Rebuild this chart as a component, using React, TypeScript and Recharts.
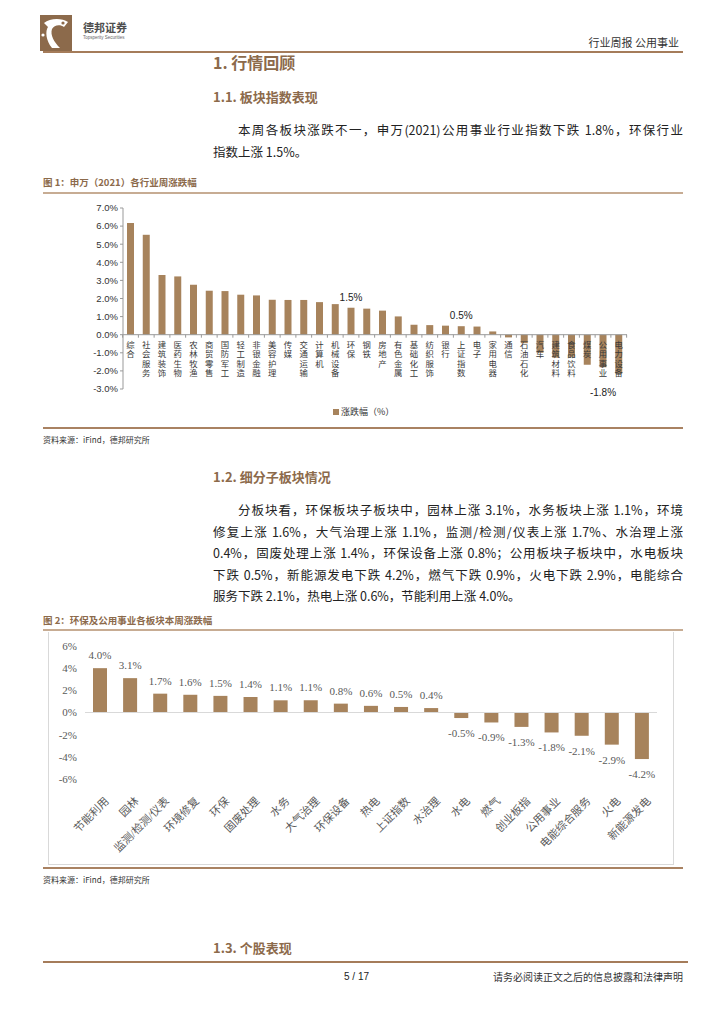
import React from "react";
import { BarChart, Bar, XAxis, YAxis, ReferenceLine, LabelList } from "recharts";

// 图1：申万（2021）各行业周涨跌幅
const industries = [
  "综合", "社会服务", "建筑装饰", "医药生物", "农林牧渔", "商贸零售", "国防军工", "轻工制造",
  "非银金融", "美容护理", "传媒", "交通运输", "计算机", "机械设备", "环保", "钢铁",
  "房地产", "有色金属", "基础化工", "纺织服饰", "银行", "上证指数", "电子", "家用电器",
  "通信", "石油石化", "汽车", "建筑材料", "食品饮料", "煤炭", "公用事业", "电力设备",
];
const industryChange = [
  6.17, 5.52, 3.3, 3.22, 2.76, 2.43, 2.41, 2.21,
  2.17, 1.93, 1.92, 1.92, 1.8, 1.69, 1.49, 1.44,
  1.33, 1.01, 0.55, 0.53, 0.5, 0.47, 0.45, 0.18,
  -0.15, -0.47, -1.0, -1.27, -1.22, -1.66, -1.8, -2.15,
];
const highlightAbove = ["环保", "上证指数"];
const highlightBelow = ["公用事业"];
const yTicks1 = [-3, -2, -1, 0, 1, 2, 3, 4, 5, 6, 7];

// 图2：环保及公用事业各板块本周涨跌幅
const sectors = [
  "节能利用", "园林", "监测/检测/仪表", "环境修复", "环保", "固废处理", "水务", "大气治理",
  "环保设备", "热电", "上证指数", "水治理", "水电", "燃气", "创业板指", "公用事业",
  "电能综合服务", "火电", "新能源发电",
];
const sectorChange = [
  4.0, 3.1, 1.7, 1.6, 1.5, 1.4, 1.1, 1.1,
  0.8, 0.6, 0.5, 0.4, -0.5, -0.9, -1.3, -1.8,
  -2.1, -2.9, -4.2,
];
const yTicks2 = [-6, -4, -2, 0, 2, 4, 6];

const chart1 = industries.map((name, i) => ({ name, value: industryChange[i] }));
const chart2 = sectors.map((name, i) => ({ name, value: sectorChange[i] }));

const BAR = "#a7835c";
const BROWN = "#8c6a4b";
const CJK = '"Noto Sans CJK SC", sans-serif';
const SANS = '"Liberation Sans", Arial, "Noto Sans CJK SC", sans-serif';
const SERIF = '"Liberation Serif", "Noto Sans CJK SC", serif';

const C1_W = 580, C1_H = 225;
const C1_M = { top: 10, right: 13, bottom: 34, left: 0 };
const C1_YW = 63;
const BAND1 = (C1_W - C1_M.left - C1_M.right - C1_YW) / industries.length;

function rectOf(props: any) {
  const vb = props.viewBox || props;
  const x = Number(vb.x), y = Number(vb.y), w = Number(vb.width), h = Number(vb.height);
  return { cx: x + w / 2, top: Math.min(y, y + h), bottom: Math.max(y, y + h) };
}

// category names are stacked one character per line, starting at the zero line
function VerticalName(props: any) {
  const { cx, top, bottom } = rectOf(props);
  const idx = props.index;
  const v = industryChange[idx];
  const zero = v >= 0 ? bottom : top;
  const chars = String(industries[idx]).split("");
  const left = cx - BAND1 / 2;
  return (
    <g>
      <line x1={left} x2={left} y1={zero} y2={zero + 3} stroke="#999" />
      {idx === industries.length - 1 && (
        <line x1={left + BAND1} x2={left + BAND1} y1={zero} y2={zero + 3} stroke="#999" />
      )}
      {chars.map((c, i) => (
        <text key={i} x={cx} y={zero + 13 + i * 9.4} textAnchor="middle" fontSize={8.4} fill="#3a3a3a" fontFamily={SANS}>
          {c}
        </text>
      ))}
    </g>
  );
}

function Highlight(props: any) {
  const idx = props.index;
  const name = industries[idx];
  const { cx, top, bottom } = rectOf(props);
  const label = industryChange[idx].toFixed(1) + "%";
  if (highlightAbove.includes(name)) {
    return <text x={cx} y={top - 7} textAnchor="middle" fontSize={10} fill="#222" fontFamily={SANS}>{label}</text>;
  }
  if (highlightBelow.includes(name)) {
    return <text x={cx} y={bottom + 29} textAnchor="middle" fontSize={10} fill="#222" fontFamily={SANS}>{label}</text>;
  }
  return null;
}

function ValueLabel(props: any) {
  const idx = props.index;
  const v = sectorChange[idx];
  const { cx, top, bottom } = rectOf(props);
  return (
    <text x={cx} y={v >= 0 ? top - 9 : bottom + 19} textAnchor="middle" fontSize={11} fill="#595959" fontFamily={SERIF}>
      {v.toFixed(1) + "%"}
    </text>
  );
}

function RotTick(props: any) {
  const { x, y, payload } = props;
  return (
    <g transform={`translate(${x + 1},${y + 12})`}>
      <text x={4} y={8} textAnchor="end" transform="rotate(-45)" fontSize={11} fill="#595959" fontFamily={SERIF}>
        {payload.value}
      </text>
    </g>
  );
}

function Logo() {
  return (
    <svg width={32} height={36} viewBox="0 0 32 36" style={{ position: "absolute", left: 40, top: 15 }}>
      <rect x={0} y={0} width={32} height={36} fill="#8c6a4b" />
      <path d="M4 8 C10 3 22 3 28 7 L24 12 C20 9 14 10 12 14 C10 20 14 27 20 33 L12 33 C6 26 5 16 8 12 Z" fill="#fff" />
      <circle cx={23} cy={8} r={1.6} fill="#8c6a4b" />
      <circle cx={3} cy={20} r={1.6} fill="#fff" />
    </svg>
  );
}

function Txt({ x, y, size, children, color = "#222", bold = false, font = CJK, right, width, justify }: any) {
  const style: React.CSSProperties = {
    position: "absolute",
    top: y - size * 0.7,
    fontSize: size,
    lineHeight: `${size * 1.4}px`,
    color,
    fontWeight: bold ? 700 : 400,
    fontFamily: font,
    whiteSpace: "nowrap",
  };
  if (right !== undefined) {
    style.right = 724 - right;
  } else {
    style.left = x;
  }
  if (width) {
    style.width = width;
  }
  if (justify) {
    style.textAlign = "justify";
    (style as any).textAlignLast = "justify";
  }
  return <div style={style}>{children}</div>;
}

function Rule({ y, h = 2, color, left = 43, width = 640 }: any) {
  return <div style={{ position: "absolute", left, top: y - h / 2, width, height: h, background: color }} />;
}

export default function App() {
  return (
    <div style={{ position: "absolute", left: 0, top: 0, width: 724, height: 1024, background: "#fff", overflow: "hidden" }}>
      <Logo />
      <Txt x={83} y={28} size={11} bold color="#4d4d4d">德邦证券</Txt>
      <Txt x={83} y={38} size={4.5} color="#666" font={SANS}>Topsperity Securities</Txt>
      <Txt right={679} y={43} size={11} color="#333">行业周报 公用事业</Txt>
      <Rule y={52} h={2} color="#a57c5a" />

      <Txt x={213} y={62} size={16} bold color={BROWN}>1. 行情回顾</Txt>
      <Txt x={213} y={97} size={13} bold color={BROWN}>1.1. 板块指数表现</Txt>
      <Txt x={238} y={130} size={12.5} width={445} justify>本周各板块涨跌不一，申万(2021)公用事业行业指数下跌 1.8%，环保行业</Txt>
      <Txt x={213} y={152} size={12.5}>指数上涨 1.5%。</Txt>

      <Txt x={43} y={183} size={9.5} bold color={BROWN}>图 1：申万（2021）各行业周涨跌幅</Txt>
      <Rule y={193} h={2} color="#c7ac93" />

      <div style={{ position: "absolute", left: 60, top: 198 }}>
        <BarChart width={C1_W} height={C1_H} data={chart1} margin={C1_M} barSize={7}>
          <XAxis dataKey="name" hide />
          <YAxis
            domain={[-3, 7]}
            ticks={yTicks1}
            interval={0}
            width={C1_YW}
            tickFormatter={(v: number) => v.toFixed(1) + "%"}
            axisLine={{ stroke: "#999" }}
            tickLine={{ stroke: "#999" }}
            tickSize={3}
            tick={{ fontSize: 9.5, fill: "#333", fontFamily: SANS }}
          />
          <ReferenceLine y={0} stroke="#999" />
          <Bar dataKey="value" fill={BAR} isAnimationActive={false}>
            <LabelList dataKey="name" content={VerticalName} />
            <LabelList dataKey="value" content={Highlight} />
          </Bar>
        </BarChart>
      </div>
      <div style={{ position: "absolute", left: 333, top: 405, fontSize: 9, lineHeight: "14px", color: "#333", fontFamily: CJK, whiteSpace: "nowrap" }}>
        <span style={{ display: "inline-block", width: 6, height: 6, background: BAR, marginRight: 2 }} />
        涨跌幅（%）
      </div>
      <Rule y={428} h={2} color="#a98262" />
      <Txt x={43} y={440} size={8} color="#333">资料来源：iFind，德邦研究所</Txt>

      <Txt x={213} y={477} size={13} bold color={BROWN}>1.2. 细分子板块情况</Txt>
      <Txt x={238} y={510} size={12.5} width={445} justify>分板块看，环保板块子板块中，园林上涨 3.1%，水务板块上涨 1.1%，环境</Txt>
      <Txt x={213} y={531.5} size={12.5} width={470} justify>修复上涨 1.6%，大气治理上涨 1.1%，监测/检测/仪表上涨 1.7%、水治理上涨</Txt>
      <Txt x={213} y={553} size={12.5} width={470} justify>0.4%，固废处理上涨 1.4%，环保设备上涨 0.8%；公用板块子板块中，水电板块</Txt>
      <Txt x={213} y={574.5} size={12.5} width={470} justify>下跌 0.5%，新能源发电下跌 4.2%，燃气下跌 0.9%，火电下跌 2.9%，电能综合</Txt>
      <Txt x={213} y={596} size={12.5}>服务下跌 2.1%，热电上涨 0.6%，节能利用上涨 4.0%。</Txt>

      <Txt x={43} y={621} size={9.5} bold color={BROWN}>图 2：环保及公用事业各板块本周涨跌幅</Txt>
      <Rule y={630} h={2} color="#c7ac93" />
      <div style={{ position: "absolute", left: 48, top: 632, width: 624, height: 232, border: "1px solid #d9d9d9", borderTop: "none" }}>
        <BarChart width={624} height={232} data={chart2} margin={{ top: 14, right: 16, bottom: 0, left: 0 }} barSize={14}>
          <XAxis dataKey="name" interval={0} axisLine={false} tickLine={false} height={85} tick={RotTick} />
          <YAxis
            domain={[-6, 6]}
            ticks={yTicks2}
            interval={0}
            width={36}
            tickFormatter={(v: number) => v + "%"}
            axisLine={false}
            tickLine={false}
            tick={{ fontSize: 11, fill: "#595959", fontFamily: SERIF }}
          />
          <ReferenceLine y={0} stroke="#d9d9d9" />
          <Bar dataKey="value" fill={BAR} isAnimationActive={false}>
            <LabelList dataKey="value" content={ValueLabel} />
          </Bar>
        </BarChart>
      </div>
      <Rule y={868} h={2} color="#a98262" />
      <Txt x={43} y={880} size={8} color="#333">资料来源：iFind，德邦研究所</Txt>

      <Txt x={213} y={948} size={13} bold color={BROWN}>1.3. 个股表现</Txt>
      <Rule y={962} h={2.5} color="#a57c5a" width={645} />
      <Txt x={344} y={977} size={10} color="#222" font={SANS}>5 / 17</Txt>
      <Txt right={683} y={977} size={10} color="#333">请务必阅读正文之后的信息披露和法律声明</Txt>
    </div>
  );
}
